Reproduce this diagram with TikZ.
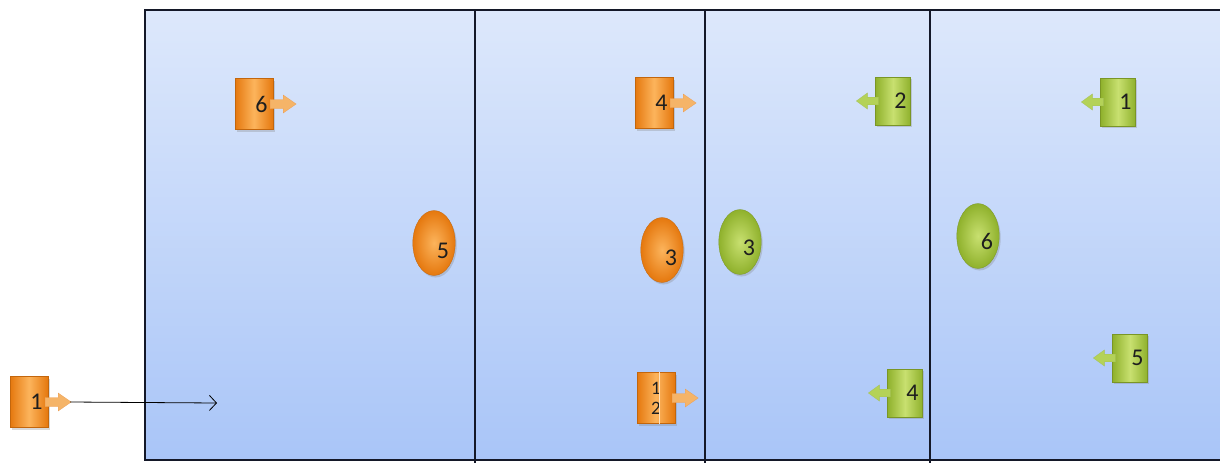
\documentclass[tikz,border=0pt]{standalone}
\usepackage{fontspec}
\setmainfont{Carlito}
\usetikzlibrary{shapes.geometric,shadows,calc,arrows.meta}
\definecolor{bgtop}{HTML}{DDE8FB}
\definecolor{bgbot}{HTML}{A9C5F8}
\definecolor{orL}{HTML}{FCB45C}
\definecolor{orD}{HTML}{E5780E}
\definecolor{orA}{HTML}{F5B468}
\definecolor{grL}{HTML}{C8E070}
\definecolor{grD}{HTML}{8FB12C}
\definecolor{grA}{HTML}{B4D258}
\definecolor{framec}{HTML}{141828}
\definecolor{txt}{HTML}{1E1E1E}
\begin{document}
\begin{tikzpicture}[x=1pt,y=-1pt,
  digit/.style={font=\fontsize{24}{24}\selectfont, text=txt},
  shad/.style={drop shadow={opacity=0.3, shadow xshift=1.5pt, shadow yshift=-2pt}},
  obox/.style={rectangle, minimum width=38pt, minimum height=51pt, inner sep=0pt,
    left color=orD, right color=orD, middle color=orL, draw=orD!85!black, line width=0.3pt,
    text width=27pt, align=right, digit, shad},
  gbox/.style={rectangle, minimum width=35pt, minimum height=48pt, inner sep=0pt,
    left color=grD, right color=grD, middle color=grL, draw=grD!85!black, line width=0.3pt,
    text width=27pt, align=right, digit, shad},
  oell/.style={ellipse, minimum width=42pt, minimum height=65pt, inner sep=0pt,
    inner color=orL, outer color=orD, draw=orD!85!black, line width=0.3pt,
    text width=30pt, align=right, digit, text height=30pt, text depth=0pt, shad},
  gell/.style={ellipse, minimum width=42pt, minimum height=65pt, inner sep=0pt,
    inner color=grL, outer color=grD, draw=grD!85!black, line width=0.3pt,
    text width=30pt, align=right, digit, text height=26pt, text depth=0pt, shad},
  rarr/.pic={\fill[orA, draw=orD!70, line width=0.3pt] (-3,-4.5) -- (10,-4.5) -- (10,-9) -- (23,0) -- (10,9) -- (10,4.5) -- (-3,4.5) -- cycle;},
  larr/.pic={\fill[grA, draw=grD!80, line width=0.3pt] (3,-3.8) -- (-8,-3.8) -- (-8,-8) -- (-19,0) -- (-8,8) -- (-8,3.8) -- (3,3.8) -- cycle;}
]
\useasboundingbox (0,0) rectangle (1220,463);
% panels
\shade[top color=bgtop, bottom color=bgbot] (145,10) rectangle (1225,460);
\draw[framec, line width=1.6pt] (145,10) rectangle (1225,460);
\foreach \xx in {475,705,930} \draw[framec, line width=2.2pt] (\xx,10) -- (\xx,463);

% orange ellipses
\node[oell] (oe5) at (434,243) {5};
\node[oell] (oe3) at (662,250) {3};
% green ellipses
\node[gell] (ge3) at (740,242) {3};
\node[gell] (ge6) at (978,236) {6};

% orange boxes
\node[obox] (b1) at (29,402) {1};
\pic at (b1.east) {rarr};
\node[obox] (b6) at (254,104) {6};
\pic at (b6.east) {rarr};
\node[obox] (b4) at (654,103) {4};
\pic at (b4.east) {rarr};
\node[obox, text width=30pt, align=center, font=\fontsize{19}{20}\selectfont] (b2) at (656,398) {1\\2};
\draw[orL!40!white, line width=1pt] ($(b2.north)+(3,0)$) -- ($(b2.south)+(3,0)$);
\pic at (b2.east) {rarr};

% green boxes
\node[gbox] (g2) at (893,101) {2};
\pic at (g2.west) {larr};
\node[gbox] (g1) at (1118,102) {1};
\pic at (g1.west) {larr};
\node[gbox] (g4) at (905,393) {4};
\pic at (g4.west) {larr};
\node[gbox] (g5) at (1130,358) {5};
\pic at (g5.west) {larr};

% connector
\coordinate (t1) at ($(b1.east)+(22,0)$);
\coordinate (e1) at (217,403);
\draw[black, line width=0.8pt, -{Straight Barb[length=7pt, width=15pt]}] (t1) -- (e1);
\end{tikzpicture}
\end{document}
